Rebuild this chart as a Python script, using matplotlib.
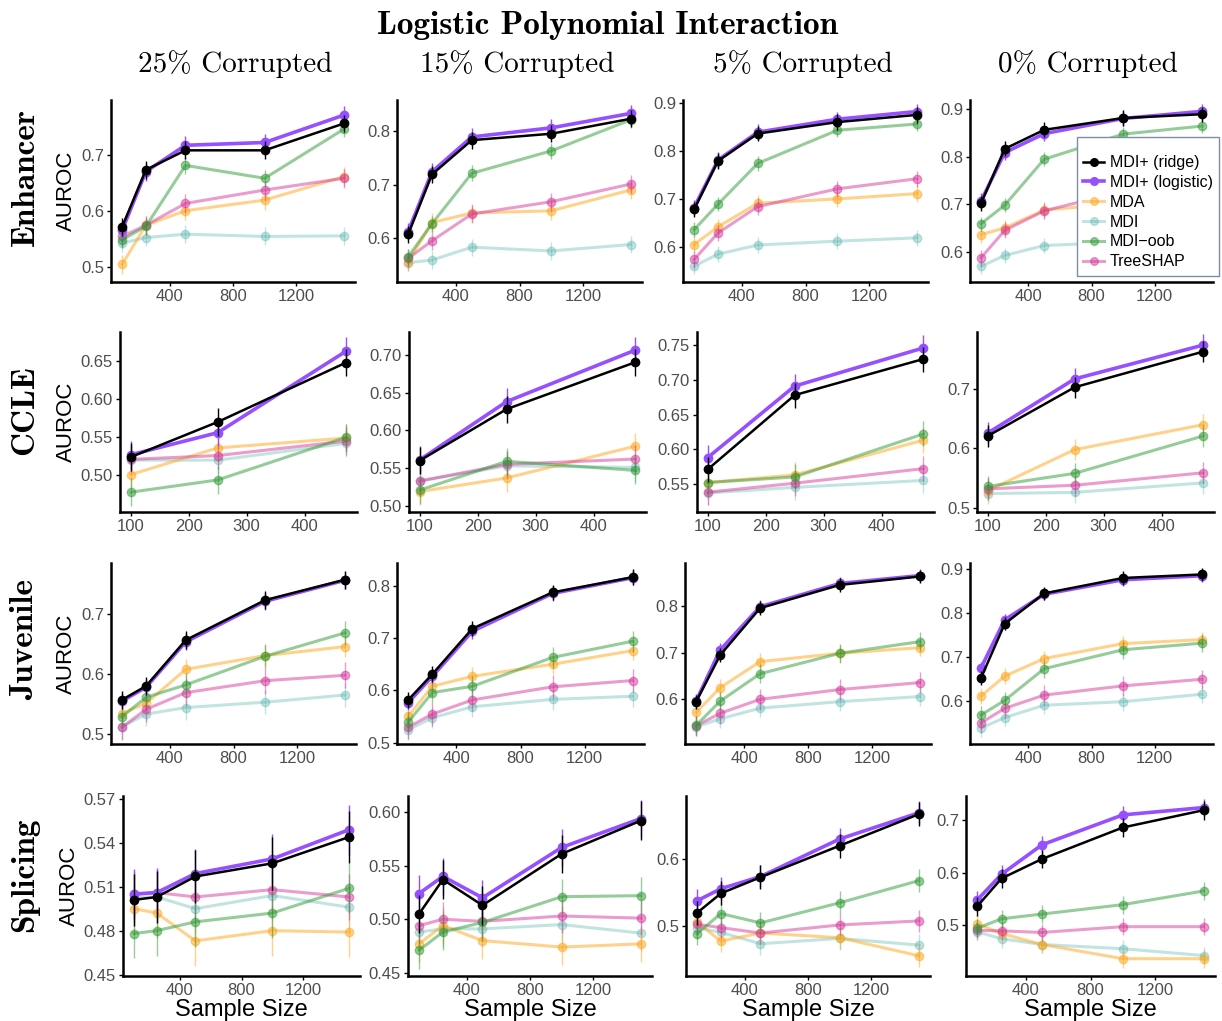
import matplotlib
matplotlib.use('Agg')
import matplotlib.pyplot as plt
from matplotlib.ticker import MultipleLocator, FormatStrFormatter
from matplotlib.lines import Line2D

# methods (order: ridge, logistic, MDA, MDI, MDI-oob, TreeSHAP)
methods = ['MDI+ (ridge)', 'MDI+ (logistic)', 'MDA', 'MDI', 'MDI\u2212oob', 'TreeSHAP']
colors = ['#000000', '#9650ff', '#ffa61a', '#4fb3aa', '#2f9a35', '#d63a9c']
alphas = [1.0, 1.0, 0.5, 0.35, 0.5, 0.5]
lws = [1.8, 2.6, 2.2, 2.2, 2.2, 2.2]

corruptions = ['25% Corrupted', '15% Corrupted', '5% Corrupted', '0% Corrupted']
datasets = ['Enhancer', 'CCLE', 'Juvenile', 'Splicing']

sizes = [100, 250, 500, 1000, 1500]
ccle_sizes = [100, 250, 472]

# ---- Enhancer ----
enh_25 = [[0.571, 0.673, 0.708, 0.708, 0.756],
          [0.565, 0.670, 0.717, 0.722, 0.771],
          [0.504, 0.574, 0.600, 0.619, 0.661],
          [0.542, 0.552, 0.558, 0.554, 0.555],
          [0.548, 0.572, 0.681, 0.658, 0.746],
          [0.554, 0.574, 0.613, 0.637, 0.658]]
enh_15 = [[0.607, 0.719, 0.783, 0.795, 0.823],
          [0.612, 0.724, 0.789, 0.806, 0.833],
          [0.556, 0.629, 0.647, 0.651, 0.690],
          [0.554, 0.559, 0.583, 0.576, 0.588],
          [0.565, 0.627, 0.721, 0.763, 0.821],
          [0.562, 0.595, 0.645, 0.668, 0.701]]
enh_5 = [[0.678, 0.779, 0.836, 0.860, 0.875],
         [0.682, 0.781, 0.839, 0.866, 0.882],
         [0.605, 0.642, 0.691, 0.700, 0.711],
         [0.560, 0.585, 0.604, 0.612, 0.619],
         [0.636, 0.689, 0.774, 0.843, 0.856],
         [0.574, 0.629, 0.684, 0.721, 0.742]]
enh_0 = [[0.702, 0.817, 0.857, 0.882, 0.890],
         [0.707, 0.809, 0.849, 0.881, 0.896],
         [0.636, 0.650, 0.688, 0.702, 0.715],
         [0.569, 0.592, 0.613, 0.620, 0.626],
         [0.659, 0.698, 0.795, 0.848, 0.865],
         [0.587, 0.645, 0.686, 0.728, 0.745]]

# ---- CCLE ----
ccle_25 = [[0.524, 0.570, 0.648],
           [0.527, 0.556, 0.663],
           [0.501, 0.536, 0.549],
           [0.520, 0.520, 0.542],
           [0.478, 0.494, 0.550],
           [0.521, 0.526, 0.545]]
ccle_15 = [[0.560, 0.628, 0.690],
           [0.561, 0.638, 0.706],
           [0.519, 0.537, 0.579],
           [0.533, 0.553, 0.551],
           [0.521, 0.559, 0.547],
           [0.533, 0.555, 0.562]]
ccle_5 = [[0.571, 0.678, 0.730],
          [0.588, 0.691, 0.746],
          [0.552, 0.563, 0.613],
          [0.537, 0.545, 0.555],
          [0.552, 0.560, 0.622],
          [0.538, 0.551, 0.572]]
ccle_0 = [[0.621, 0.703, 0.763],
          [0.626, 0.717, 0.774],
          [0.529, 0.598, 0.640],
          [0.524, 0.526, 0.542],
          [0.536, 0.558, 0.621],
          [0.532, 0.538, 0.559]]

# ---- Juvenile ----
juv_25 = [[0.557, 0.580, 0.657, 0.724, 0.758],
          [0.555, 0.578, 0.654, 0.722, 0.757],
          [0.534, 0.551, 0.608, 0.631, 0.646],
          [0.512, 0.533, 0.544, 0.553, 0.565],
          [0.529, 0.561, 0.582, 0.630, 0.669],
          [0.511, 0.541, 0.569, 0.589, 0.598]]
juv_15 = [[0.582, 0.631, 0.718, 0.787, 0.816],
          [0.577, 0.627, 0.713, 0.785, 0.815],
          [0.551, 0.608, 0.627, 0.650, 0.676],
          [0.525, 0.548, 0.569, 0.583, 0.589],
          [0.540, 0.596, 0.608, 0.663, 0.694],
          [0.530, 0.555, 0.582, 0.607, 0.619]]
juv_5 = [[0.595, 0.695, 0.796, 0.846, 0.864],
         [0.597, 0.706, 0.799, 0.849, 0.866],
         [0.572, 0.625, 0.681, 0.699, 0.711],
         [0.541, 0.558, 0.581, 0.595, 0.606],
         [0.544, 0.596, 0.655, 0.699, 0.724],
         [0.543, 0.570, 0.600, 0.621, 0.636]]
juv_0 = [[0.652, 0.775, 0.844, 0.879, 0.887],
         [0.675, 0.784, 0.842, 0.875, 0.884],
         [0.611, 0.656, 0.696, 0.730, 0.739],
         [0.538, 0.562, 0.590, 0.598, 0.615],
         [0.568, 0.601, 0.673, 0.716, 0.731],
         [0.550, 0.583, 0.613, 0.634, 0.649]]

# ---- Splicing ----
spl_25 = [[0.501, 0.503, 0.517, 0.526, 0.544],
          [0.505, 0.506, 0.519, 0.529, 0.549],
          [0.495, 0.492, 0.473, 0.480, 0.479],
          [0.503, 0.503, 0.495, 0.504, 0.496],
          [0.478, 0.480, 0.486, 0.492, 0.509],
          [0.505, 0.506, 0.503, 0.508, 0.503]]
spl_15 = [[0.505, 0.537, 0.513, 0.561, 0.592],
          [0.524, 0.540, 0.520, 0.567, 0.594],
          [0.477, 0.494, 0.480, 0.474, 0.477],
          [0.488, 0.491, 0.491, 0.495, 0.487],
          [0.471, 0.488, 0.497, 0.521, 0.522],
          [0.494, 0.500, 0.498, 0.503, 0.501]]
spl_5 = [[0.520, 0.549, 0.573, 0.620, 0.667],
         [0.538, 0.556, 0.574, 0.630, 0.669],
         [0.506, 0.478, 0.490, 0.483, 0.456],
         [0.498, 0.491, 0.474, 0.482, 0.472],
         [0.489, 0.519, 0.505, 0.535, 0.568],
         [0.503, 0.498, 0.490, 0.502, 0.508]]
spl_0 = [[0.536, 0.589, 0.626, 0.686, 0.719],
         [0.548, 0.597, 0.653, 0.710, 0.724],
         [0.502, 0.484, 0.463, 0.436, 0.436],
         [0.487, 0.474, 0.463, 0.455, 0.442],
         [0.494, 0.512, 0.521, 0.539, 0.565],
         [0.490, 0.489, 0.486, 0.497, 0.497]]

# standard errors per dataset (per method)
err_enh = [0.016, 0.016, 0.017, 0.016, 0.015, 0.017]
err_ccle = [0.018, 0.018, 0.018, 0.018, 0.018, 0.018]
err_juv = [0.015, 0.014, 0.018, 0.020, 0.020, 0.022]
err_spl = [0.018, 0.017, 0.017, 0.017, 0.017, 0.016]

panels = [[enh_25, enh_15, enh_5, enh_0],
          [ccle_25, ccle_15, ccle_5, ccle_0],
          [juv_25, juv_15, juv_5, juv_0],
          [spl_25, spl_15, spl_5, spl_0]]
errs = [err_enh, err_ccle, err_juv, err_spl]

# y-limits and tick steps
ylims = [[(0.4725, 0.798), (0.518, 0.858), (0.527, 0.906), (0.536, 0.920)],
         [(0.452, 0.688), (0.492, 0.730), (0.5095, 0.769), (0.493, 0.796)],
         [(0.483, 0.786), (0.498, 0.843), (0.504, 0.893), (0.502, 0.913)],
         [(0.449, 0.572), (0.447, 0.615), (0.426, 0.694), (0.403, 0.746)]]
ysteps = [[0.1, 0.1, 0.1, 0.1],
          [0.05, 0.05, 0.05, 0.1],
          [0.1, 0.1, 0.1, 0.1],
          [0.03, 0.05, 0.1, 0.1]]
yfmts = [['%.1f'] * 4,
         ['%.2f', '%.2f', '%.2f', '%.1f'],
         ['%.1f'] * 4,
         ['%.2f', '%.2f', '%.1f', '%.1f']]

# panel boxes in pixels (left, top, right, bottom)
W, H = 1222, 1021
boxes = [[(111, 100, 355, 282), (397, 100, 642, 282), (683, 100, 928, 282), (970, 100, 1213, 282)],
         [(120, 332, 357, 512), (409, 332, 646, 512), (697, 332, 934, 512), (977, 332, 1214, 512)],
         [(111, 563, 356, 744), (397, 563, 644, 744), (685, 563, 931, 744), (970, 563, 1213, 744)],
         [(123, 796, 360, 976), (408, 796, 652, 976), (686, 796, 930, 976), (966, 796, 1215, 976)]]

plt.rcParams['font.family'] = ['Liberation Sans', 'DejaVu Sans']
fig = plt.figure(figsize=(W / 100, H / 100), dpi=100)

for r in range(4):
    xs = ccle_sizes if r == 1 else sizes
    for c in range(4):
        l, t, rr, b = boxes[r][c]
        ax = fig.add_axes([l / W, 1 - b / H, (rr - l) / W, (b - t) / H])
        data = panels[r][c]
        order = [3, 2, 5, 4, 1, 0]
        for k in order:
            ax.errorbar(xs, data[k], yerr=errs[r][k], color=colors[k], alpha=alphas[k],
                        lw=lws[k], marker='o', ms=6, elinewidth=1.0, capsize=0,
                        zorder=3 + order.index(k))
        ax.set_xlim(xs[0] - 0.05 * (xs[-1] - xs[0]), xs[-1] + 0.05 * (xs[-1] - xs[0]))
        ax.set_ylim(*ylims[r][c])
        if r == 1:
            ax.set_xticks([100, 200, 300, 400])
        else:
            ax.set_xticks([400, 800, 1200])
        ax.yaxis.set_major_locator(MultipleLocator(ysteps[r][c]))
        ax.yaxis.set_major_formatter(FormatStrFormatter(yfmts[r][c]))
        for s in ['top', 'right']:
            ax.spines[s].set_visible(False)
        for s in ['left', 'bottom']:
            ax.spines[s].set_linewidth(1.8)
        ax.tick_params(length=3, width=1, labelsize=12, labelcolor='#4d4d4d', pad=2)
        if c == 0:
            ax.set_ylabel('AUROC', fontsize=16, labelpad=3)
        if r == 3:
            ax.set_xlabel('Sample Size', fontsize=17, labelpad=1)

# titles
fig.text(608 / W, 1 - 25 / H, 'Logistic Polynomial Interaction', family='cmb10',
         fontsize=24, ha='center', va='center')
col_centers = [235, 517, 803, 1088]
for c in range(4):
    fig.text(col_centers[c] / W, 1 - 64 / H, corruptions[c], family='cmr10',
             fontsize=21, ha='center', va='center')
row_centers = [177, 410, 640, 875]
for r in range(4):
    fig.text(25 / W, 1 - row_centers[r] / H, datasets[r], family='cmb10',
             fontsize=24, rotation=90, ha='center', va='center')

# legend
handles = [Line2D([0], [0], color=colors[k], alpha=alphas[k] if k > 1 else 1.0,
                  lw=lws[k], marker='o', ms=5.5) for k in range(6)]
leg = fig.legend(handles, methods, loc='upper left',
                 bbox_to_anchor=(1077 / W, 1 - 137 / H), borderaxespad=0,
                 fontsize=11.5, frameon=True, fancybox=False, framealpha=1.0,
                 handlelength=1.3, handletextpad=0.35, labelspacing=0.3,
                 borderpad=0.4, title=' ', title_fontsize=6)
leg.get_frame().set_edgecolor('#7b8ea3')
leg.get_frame().set_linewidth(1.0)
leg.set_zorder(20)

fig.savefig('out.png', dpi=100)
